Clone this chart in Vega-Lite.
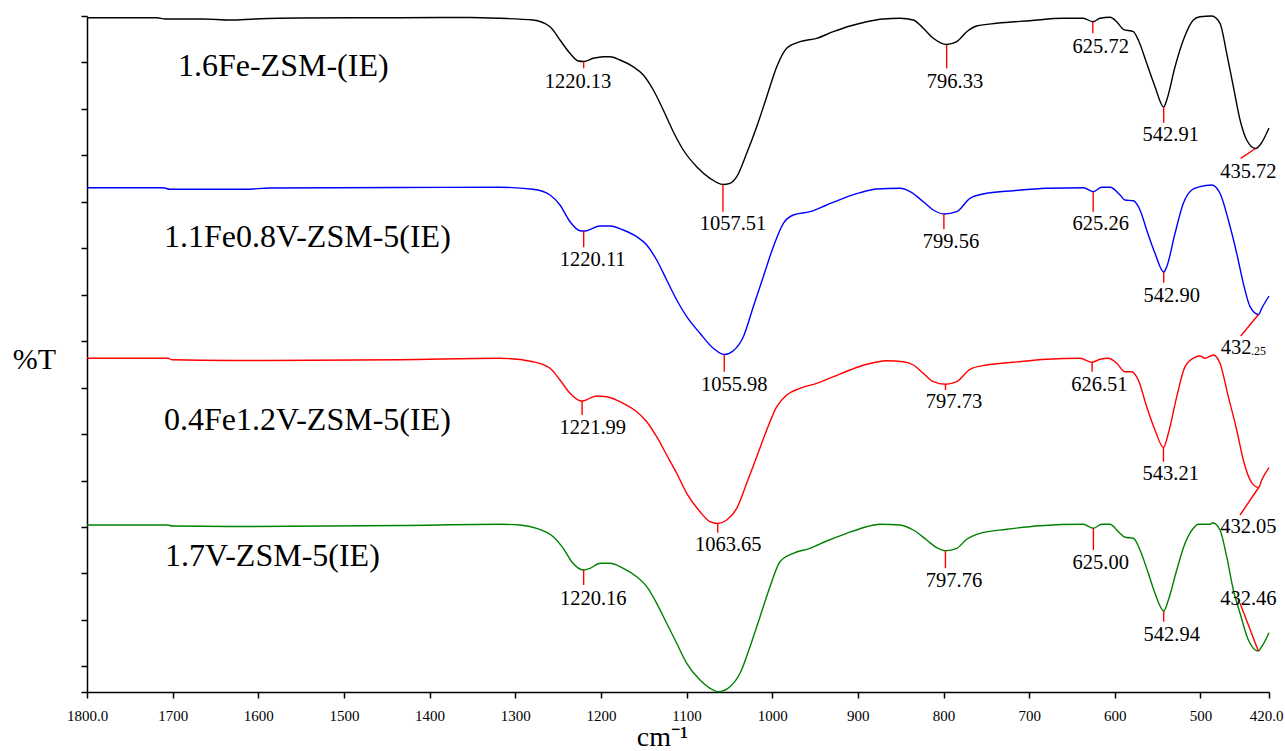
{
  "$schema": "https://vega.github.io/schema/vega-lite/v6.json",
  "width": 1182,
  "height": 676,
  "autosize": {"type": "none"},
  "padding": {"left": 87, "top": 16, "right": 16, "bottom": 59},
  "background": "white",
  "config": {
    "view": {"stroke": null},
    "font": "Liberation Serif",
    "axis": {"labelFont": "Liberation Serif", "titleFont": "Liberation Serif"},
    "text": {"font": "Liberation Serif", "color": "#000000"}
  },
  "datasets": {
    "spectra": [
      {"sample": "1.6Fe", "wn": 1800, "T": 67.43}, {"sample": "1.6Fe", "wn": 1718.3, "T": 67.43}, {"sample": "1.6Fe", "wn": 1708.9, "T": 67.3}, {"sample": "1.6Fe", "wn": 1664.6, "T": 67.3}, {"sample": "1.6Fe", "wn": 1633, "T": 67.2}, {"sample": "1.6Fe", "wn": 1603.9, "T": 67.3}, {"sample": "1.6Fe", "wn": 1551.3, "T": 67.4}, {"sample": "1.6Fe", "wn": 1434.6, "T": 67.43}, {"sample": "1.6Fe", "wn": 1352.8, "T": 67.45}, {"sample": "1.6Fe", "wn": 1317.8, "T": 67.37}, {"sample": "1.6Fe", "wn": 1279.3, "T": 67.2}, {"sample": "1.6Fe", "wn": 1259.4, "T": 66.53}, {"sample": "1.6Fe", "wn": 1247.8, "T": 65.2}, {"sample": "1.6Fe", "wn": 1236.1, "T": 63.87}, {"sample": "1.6Fe", "wn": 1226.4, "T": 63.1}, {"sample": "1.6Fe", "wn": 1220.13, "T": 63.05}, {"sample": "1.6Fe", "wn": 1208.9, "T": 63.37}, {"sample": "1.6Fe", "wn": 1197.2, "T": 63.53}, {"sample": "1.6Fe", "wn": 1189.4, "T": 63.53}, {"sample": "1.6Fe", "wn": 1177.7, "T": 63.2}, {"sample": "1.6Fe", "wn": 1162.5, "T": 62.53}, {"sample": "1.6Fe", "wn": 1150.5, "T": 61.7}, {"sample": "1.6Fe", "wn": 1138.8, "T": 60.2}, {"sample": "1.6Fe", "wn": 1127.2, "T": 58.2}, {"sample": "1.6Fe", "wn": 1115.5, "T": 56.03}, {"sample": "1.6Fe", "wn": 1103.8, "T": 54.2}, {"sample": "1.6Fe", "wn": 1088.2, "T": 52.53}, {"sample": "1.6Fe", "wn": 1072.6, "T": 51.37}, {"sample": "1.6Fe", "wn": 1057.51, "T": 50.75}, {"sample": "1.6Fe", "wn": 1049.3, "T": 50.87}, {"sample": "1.6Fe", "wn": 1041.4, "T": 51.53}, {"sample": "1.6Fe", "wn": 1029.8, "T": 53.87}, {"sample": "1.6Fe", "wn": 1018.1, "T": 56.53}, {"sample": "1.6Fe", "wn": 1006.4, "T": 59.53}, {"sample": "1.6Fe", "wn": 994.7, "T": 62.53}, {"sample": "1.6Fe", "wn": 983.1, "T": 64.37}, {"sample": "1.6Fe", "wn": 967.5, "T": 65.03}, {"sample": "1.6Fe", "wn": 948.1, "T": 65.37}, {"sample": "1.6Fe", "wn": 928.7, "T": 66.03}, {"sample": "1.6Fe", "wn": 909.2, "T": 66.6}, {"sample": "1.6Fe", "wn": 889.7, "T": 67.03}, {"sample": "1.6Fe", "wn": 870.3, "T": 67.3}, {"sample": "1.6Fe", "wn": 850.8, "T": 67.37}, {"sample": "1.6Fe", "wn": 835.3, "T": 67.2}, {"sample": "1.6Fe", "wn": 823.6, "T": 66.37}, {"sample": "1.6Fe", "wn": 811.9, "T": 65.37}, {"sample": "1.6Fe", "wn": 796.33, "T": 64.75}, {"sample": "1.6Fe", "wn": 784.6, "T": 65.03}, {"sample": "1.6Fe", "wn": 772.9, "T": 66.03}, {"sample": "1.6Fe", "wn": 761.2, "T": 66.6}, {"sample": "1.6Fe", "wn": 737.9, "T": 66.87}, {"sample": "1.6Fe", "wn": 699, "T": 67.13}, {"sample": "1.6Fe", "wn": 660.1, "T": 67.37}, {"sample": "1.6Fe", "wn": 636.8, "T": 67.37}, {"sample": "1.6Fe", "wn": 625.72, "T": 67.03}, {"sample": "1.6Fe", "wn": 617.3, "T": 67.37}, {"sample": "1.6Fe", "wn": 605.6, "T": 67.47}, {"sample": "1.6Fe", "wn": 597.8, "T": 67.03}, {"sample": "1.6Fe", "wn": 590.1, "T": 66.27}, {"sample": "1.6Fe", "wn": 578.4, "T": 66.03}, {"sample": "1.6Fe", "wn": 572.6, "T": 65.2}, {"sample": "1.6Fe", "wn": 562.8, "T": 62.87}, {"sample": "1.6Fe", "wn": 553.1, "T": 60.53}, {"sample": "1.6Fe", "wn": 542.91, "T": 58.5}, {"sample": "1.6Fe", "wn": 539.4, "T": 59.2}, {"sample": "1.6Fe", "wn": 529.7, "T": 62.53}, {"sample": "1.6Fe", "wn": 520, "T": 65.2}, {"sample": "1.6Fe", "wn": 508.3, "T": 67.2}, {"sample": "1.6Fe", "wn": 500.5, "T": 67.53}, {"sample": "1.6Fe", "wn": 486.9, "T": 67.6}, {"sample": "1.6Fe", "wn": 477.2, "T": 66.87}, {"sample": "1.6Fe", "wn": 469.4, "T": 63.87}, {"sample": "1.6Fe", "wn": 461.6, "T": 60.53}, {"sample": "1.6Fe", "wn": 453.8, "T": 57.2}, {"sample": "1.6Fe", "wn": 446, "T": 55.2}, {"sample": "1.6Fe", "wn": 435.72, "T": 54.35}, {"sample": "1.6Fe", "wn": 430.5, "T": 54.7}, {"sample": "1.6Fe", "wn": 420, "T": 56.4},

      {"sample": "1.1Fe0.8V", "wn": 1800, "T": 50.43}, {"sample": "1.1Fe0.8V", "wn": 1711.3, "T": 50.43}, {"sample": "1.1Fe0.8V", "wn": 1703.1, "T": 50.27}, {"sample": "1.1Fe0.8V", "wn": 1615.5, "T": 50.27}, {"sample": "1.1Fe0.8V", "wn": 1586.3, "T": 50.4}, {"sample": "1.1Fe0.8V", "wn": 1434.6, "T": 50.45}, {"sample": "1.1Fe0.8V", "wn": 1317.8, "T": 50.47}, {"sample": "1.1Fe0.8V", "wn": 1279.3, "T": 50.27}, {"sample": "1.1Fe0.8V", "wn": 1259.4, "T": 49.7}, {"sample": "1.1Fe0.8V", "wn": 1247.8, "T": 48.7}, {"sample": "1.1Fe0.8V", "wn": 1236.1, "T": 47.03}, {"sample": "1.1Fe0.8V", "wn": 1224.4, "T": 46.13}, {"sample": "1.1Fe0.8V", "wn": 1220.11, "T": 46.1}, {"sample": "1.1Fe0.8V", "wn": 1216.6, "T": 46.13}, {"sample": "1.1Fe0.8V", "wn": 1201.1, "T": 46.6}, {"sample": "1.1Fe0.8V", "wn": 1189.4, "T": 46.6}, {"sample": "1.1Fe0.8V", "wn": 1173.9, "T": 46.2}, {"sample": "1.1Fe0.8V", "wn": 1158.2, "T": 45.53}, {"sample": "1.1Fe0.8V", "wn": 1146.5, "T": 44.7}, {"sample": "1.1Fe0.8V", "wn": 1134.9, "T": 43.2}, {"sample": "1.1Fe0.8V", "wn": 1123.2, "T": 41.2}, {"sample": "1.1Fe0.8V", "wn": 1111.5, "T": 39.2}, {"sample": "1.1Fe0.8V", "wn": 1099.8, "T": 37.53}, {"sample": "1.1Fe0.8V", "wn": 1084.3, "T": 35.87}, {"sample": "1.1Fe0.8V", "wn": 1068.8, "T": 34.37}, {"sample": "1.1Fe0.8V", "wn": 1055.98, "T": 33.75}, {"sample": "1.1Fe0.8V", "wn": 1045.4, "T": 34.13}, {"sample": "1.1Fe0.8V", "wn": 1033.7, "T": 35.53}, {"sample": "1.1Fe0.8V", "wn": 1022.1, "T": 38.53}, {"sample": "1.1Fe0.8V", "wn": 1010.4, "T": 41.53}, {"sample": "1.1Fe0.8V", "wn": 998.7, "T": 44.53}, {"sample": "1.1Fe0.8V", "wn": 987, "T": 46.87}, {"sample": "1.1Fe0.8V", "wn": 975.4, "T": 47.7}, {"sample": "1.1Fe0.8V", "wn": 955.9, "T": 48.03}, {"sample": "1.1Fe0.8V", "wn": 936.4, "T": 48.7}, {"sample": "1.1Fe0.8V", "wn": 917, "T": 49.37}, {"sample": "1.1Fe0.8V", "wn": 897.5, "T": 49.93}, {"sample": "1.1Fe0.8V", "wn": 878, "T": 50.3}, {"sample": "1.1Fe0.8V", "wn": 850.8, "T": 50.37}, {"sample": "1.1Fe0.8V", "wn": 839.1, "T": 50.03}, {"sample": "1.1Fe0.8V", "wn": 823.6, "T": 49.03}, {"sample": "1.1Fe0.8V", "wn": 811.9, "T": 48.2}, {"sample": "1.1Fe0.8V", "wn": 799.56, "T": 47.8}, {"sample": "1.1Fe0.8V", "wn": 784.6, "T": 48.03}, {"sample": "1.1Fe0.8V", "wn": 769.1, "T": 49.37}, {"sample": "1.1Fe0.8V", "wn": 749.6, "T": 49.87}, {"sample": "1.1Fe0.8V", "wn": 718.5, "T": 50.13}, {"sample": "1.1Fe0.8V", "wn": 679.5, "T": 50.37}, {"sample": "1.1Fe0.8V", "wn": 636.8, "T": 50.43}, {"sample": "1.1Fe0.8V", "wn": 625.26, "T": 50.03}, {"sample": "1.1Fe0.8V", "wn": 615.3, "T": 50.47}, {"sample": "1.1Fe0.8V", "wn": 605.6, "T": 50.47}, {"sample": "1.1Fe0.8V", "wn": 593.9, "T": 49.7}, {"sample": "1.1Fe0.8V", "wn": 588.1, "T": 49.2}, {"sample": "1.1Fe0.8V", "wn": 578.4, "T": 49.13}, {"sample": "1.1Fe0.8V", "wn": 570.6, "T": 48.2}, {"sample": "1.1Fe0.8V", "wn": 562.8, "T": 46.2}, {"sample": "1.1Fe0.8V", "wn": 553.1, "T": 43.87}, {"sample": "1.1Fe0.8V", "wn": 542.9, "T": 42.0}, {"sample": "1.1Fe0.8V", "wn": 539.4, "T": 42.53}, {"sample": "1.1Fe0.8V", "wn": 529.7, "T": 45.87}, {"sample": "1.1Fe0.8V", "wn": 520, "T": 48.87}, {"sample": "1.1Fe0.8V", "wn": 510.2, "T": 50.2}, {"sample": "1.1Fe0.8V", "wn": 500.5, "T": 50.53}, {"sample": "1.1Fe0.8V", "wn": 486.9, "T": 50.7}, {"sample": "1.1Fe0.8V", "wn": 477.2, "T": 49.87}, {"sample": "1.1Fe0.8V", "wn": 467.5, "T": 47.2}, {"sample": "1.1Fe0.8V", "wn": 457.7, "T": 43.87}, {"sample": "1.1Fe0.8V", "wn": 450, "T": 40.87}, {"sample": "1.1Fe0.8V", "wn": 442.1, "T": 38.53}, {"sample": "1.1Fe0.8V", "wn": 432.25, "T": 37.75}, {"sample": "1.1Fe0.8V", "wn": 428.5, "T": 38.37}, {"sample": "1.1Fe0.8V", "wn": 420, "T": 39.6},

      {"sample": "0.4Fe1.2V", "wn": 1800, "T": 33.37}, {"sample": "0.4Fe1.2V", "wn": 1705.4, "T": 33.37}, {"sample": "0.4Fe1.2V", "wn": 1700.8, "T": 33.23}, {"sample": "0.4Fe1.2V", "wn": 1633, "T": 33.15}, {"sample": "0.4Fe1.2V", "wn": 1434.6, "T": 33.23}, {"sample": "0.4Fe1.2V", "wn": 1317.8, "T": 33.37}, {"sample": "0.4Fe1.2V", "wn": 1279.3, "T": 33.03}, {"sample": "0.4Fe1.2V", "wn": 1259.4, "T": 32.37}, {"sample": "0.4Fe1.2V", "wn": 1247.8, "T": 31.2}, {"sample": "0.4Fe1.2V", "wn": 1236.1, "T": 29.87}, {"sample": "0.4Fe1.2V", "wn": 1224.4, "T": 29.13}, {"sample": "0.4Fe1.2V", "wn": 1221.99, "T": 29.1}, {"sample": "0.4Fe1.2V", "wn": 1204.9, "T": 29.6}, {"sample": "0.4Fe1.2V", "wn": 1193.2, "T": 29.53}, {"sample": "0.4Fe1.2V", "wn": 1173.9, "T": 28.87}, {"sample": "0.4Fe1.2V", "wn": 1158.2, "T": 28.03}, {"sample": "0.4Fe1.2V", "wn": 1146.5, "T": 27.03}, {"sample": "0.4Fe1.2V", "wn": 1134.9, "T": 25.53}, {"sample": "0.4Fe1.2V", "wn": 1123.2, "T": 23.7}, {"sample": "0.4Fe1.2V", "wn": 1111.5, "T": 21.87}, {"sample": "0.4Fe1.2V", "wn": 1099.8, "T": 19.87}, {"sample": "0.4Fe1.2V", "wn": 1084.3, "T": 18.03}, {"sample": "0.4Fe1.2V", "wn": 1072.6, "T": 17.03}, {"sample": "0.4Fe1.2V", "wn": 1063.65, "T": 16.85}, {"sample": "0.4Fe1.2V", "wn": 1053.1, "T": 17.2}, {"sample": "0.4Fe1.2V", "wn": 1041.4, "T": 18.37}, {"sample": "0.4Fe1.2V", "wn": 1029.8, "T": 20.87}, {"sample": "0.4Fe1.2V", "wn": 1018.1, "T": 23.53}, {"sample": "0.4Fe1.2V", "wn": 1006.4, "T": 26.2}, {"sample": "0.4Fe1.2V", "wn": 994.7, "T": 28.53}, {"sample": "0.4Fe1.2V", "wn": 983.1, "T": 29.7}, {"sample": "0.4Fe1.2V", "wn": 967.5, "T": 30.37}, {"sample": "0.4Fe1.2V", "wn": 948.1, "T": 30.87}, {"sample": "0.4Fe1.2V", "wn": 928.7, "T": 31.53}, {"sample": "0.4Fe1.2V", "wn": 909.2, "T": 32.2}, {"sample": "0.4Fe1.2V", "wn": 889.7, "T": 32.77}, {"sample": "0.4Fe1.2V", "wn": 866.3, "T": 33.13}, {"sample": "0.4Fe1.2V", "wn": 846.9, "T": 33.03}, {"sample": "0.4Fe1.2V", "wn": 835.3, "T": 32.7}, {"sample": "0.4Fe1.2V", "wn": 823.6, "T": 31.87}, {"sample": "0.4Fe1.2V", "wn": 811.9, "T": 31.03}, {"sample": "0.4Fe1.2V", "wn": 797.73, "T": 30.77}, {"sample": "0.4Fe1.2V", "wn": 784.6, "T": 31.03}, {"sample": "0.4Fe1.2V", "wn": 769.1, "T": 32.27}, {"sample": "0.4Fe1.2V", "wn": 749.6, "T": 32.7}, {"sample": "0.4Fe1.2V", "wn": 718.5, "T": 32.97}, {"sample": "0.4Fe1.2V", "wn": 679.5, "T": 33.27}, {"sample": "0.4Fe1.2V", "wn": 640.6, "T": 33.37}, {"sample": "0.4Fe1.2V", "wn": 626.51, "T": 32.97}, {"sample": "0.4Fe1.2V", "wn": 617.3, "T": 33.27}, {"sample": "0.4Fe1.2V", "wn": 607.6, "T": 33.37}, {"sample": "0.4Fe1.2V", "wn": 597.8, "T": 32.87}, {"sample": "0.4Fe1.2V", "wn": 588.1, "T": 32.03}, {"sample": "0.4Fe1.2V", "wn": 580.3, "T": 32.03}, {"sample": "0.4Fe1.2V", "wn": 572.6, "T": 31.2}, {"sample": "0.4Fe1.2V", "wn": 562.8, "T": 28.53}, {"sample": "0.4Fe1.2V", "wn": 553.1, "T": 26.2}, {"sample": "0.4Fe1.2V", "wn": 543.21, "T": 24.45}, {"sample": "0.4Fe1.2V", "wn": 537.5, "T": 25.87}, {"sample": "0.4Fe1.2V", "wn": 527.7, "T": 29.53}, {"sample": "0.4Fe1.2V", "wn": 518, "T": 32.53}, {"sample": "0.4Fe1.2V", "wn": 506.4, "T": 33.47}, {"sample": "0.4Fe1.2V", "wn": 500.5, "T": 33.6}, {"sample": "0.4Fe1.2V", "wn": 494.7, "T": 33.37}, {"sample": "0.4Fe1.2V", "wn": 485, "T": 33.7}, {"sample": "0.4Fe1.2V", "wn": 477.2, "T": 32.87}, {"sample": "0.4Fe1.2V", "wn": 467.5, "T": 29.53}, {"sample": "0.4Fe1.2V", "wn": 457.7, "T": 26.2}, {"sample": "0.4Fe1.2V", "wn": 450, "T": 23.2}, {"sample": "0.4Fe1.2V", "wn": 440.2, "T": 20.93}, {"sample": "0.4Fe1.2V", "wn": 432.05, "T": 20.45}, {"sample": "0.4Fe1.2V", "wn": 428.5, "T": 21.2}, {"sample": "0.4Fe1.2V", "wn": 420, "T": 22.43},

      {"sample": "1.7V", "wn": 1800, "T": 16.7}, {"sample": "1.7V", "wn": 1705.4, "T": 16.7}, {"sample": "1.7V", "wn": 1700.8, "T": 16.6}, {"sample": "1.7V", "wn": 1633, "T": 16.55}, {"sample": "1.7V", "wn": 1434.6, "T": 16.65}, {"sample": "1.7V", "wn": 1317.8, "T": 16.77}, {"sample": "1.7V", "wn": 1294.5, "T": 16.7}, {"sample": "1.7V", "wn": 1275, "T": 16.37}, {"sample": "1.7V", "wn": 1255.6, "T": 15.53}, {"sample": "1.7V", "wn": 1243.9, "T": 14.37}, {"sample": "1.7V", "wn": 1234.1, "T": 13.03}, {"sample": "1.7V", "wn": 1220.16, "T": 12.2}, {"sample": "1.7V", "wn": 1212.7, "T": 12.37}, {"sample": "1.7V", "wn": 1201.1, "T": 12.87}, {"sample": "1.7V", "wn": 1189.4, "T": 12.87}, {"sample": "1.7V", "wn": 1173.9, "T": 12.37}, {"sample": "1.7V", "wn": 1158.2, "T": 11.53}, {"sample": "1.7V", "wn": 1146.5, "T": 10.53}, {"sample": "1.7V", "wn": 1134.9, "T": 8.87}, {"sample": "1.7V", "wn": 1123.2, "T": 6.87}, {"sample": "1.7V", "wn": 1111.5, "T": 4.87}, {"sample": "1.7V", "wn": 1099.8, "T": 2.87}, {"sample": "1.7V", "wn": 1084.3, "T": 1.2}, {"sample": "1.7V", "wn": 1072.6, "T": 0.37}, {"sample": "1.7V", "wn": 1062.9, "T": 0.03}, {"sample": "1.7V", "wn": 1049.3, "T": 0.53}, {"sample": "1.7V", "wn": 1037.6, "T": 1.87}, {"sample": "1.7V", "wn": 1025.9, "T": 4.53}, {"sample": "1.7V", "wn": 1014.2, "T": 7.53}, {"sample": "1.7V", "wn": 1002.6, "T": 10.53}, {"sample": "1.7V", "wn": 990.9, "T": 13.03}, {"sample": "1.7V", "wn": 975.4, "T": 13.87}, {"sample": "1.7V", "wn": 955.9, "T": 14.37}, {"sample": "1.7V", "wn": 936.4, "T": 15.1}, {"sample": "1.7V", "wn": 913, "T": 15.87}, {"sample": "1.7V", "wn": 889.7, "T": 16.53}, {"sample": "1.7V", "wn": 874.1, "T": 16.77}, {"sample": "1.7V", "wn": 850.8, "T": 16.7}, {"sample": "1.7V", "wn": 835.3, "T": 16.2}, {"sample": "1.7V", "wn": 819.6, "T": 15.2}, {"sample": "1.7V", "wn": 808, "T": 14.43}, {"sample": "1.7V", "wn": 797.76, "T": 14.13}, {"sample": "1.7V", "wn": 784.6, "T": 14.37}, {"sample": "1.7V", "wn": 772.9, "T": 15.27}, {"sample": "1.7V", "wn": 757.4, "T": 15.87}, {"sample": "1.7V", "wn": 726.2, "T": 16.27}, {"sample": "1.7V", "wn": 687.3, "T": 16.63}, {"sample": "1.7V", "wn": 636.8, "T": 16.77}, {"sample": "1.7V", "wn": 625, "T": 16.37}, {"sample": "1.7V", "wn": 615.3, "T": 16.77}, {"sample": "1.7V", "wn": 605.6, "T": 16.77}, {"sample": "1.7V", "wn": 595.9, "T": 16.03}, {"sample": "1.7V", "wn": 588.1, "T": 15.47}, {"sample": "1.7V", "wn": 578.4, "T": 15.37}, {"sample": "1.7V", "wn": 570.6, "T": 14.2}, {"sample": "1.7V", "wn": 560.9, "T": 11.87}, {"sample": "1.7V", "wn": 553.1, "T": 9.87}, {"sample": "1.7V", "wn": 542.94, "T": 8.1}, {"sample": "1.7V", "wn": 537.5, "T": 9.2}, {"sample": "1.7V", "wn": 527.7, "T": 12.2}, {"sample": "1.7V", "wn": 518, "T": 14.87}, {"sample": "1.7V", "wn": 508.3, "T": 16.37}, {"sample": "1.7V", "wn": 502.5, "T": 16.77}, {"sample": "1.7V", "wn": 488.8, "T": 16.77}, {"sample": "1.7V", "wn": 485.7, "T": 16.93}, {"sample": "1.7V", "wn": 477.2, "T": 16.2}, {"sample": "1.7V", "wn": 469.4, "T": 13.53}, {"sample": "1.7V", "wn": 461.6, "T": 10.2}, {"sample": "1.7V", "wn": 453.8, "T": 7.87}, {"sample": "1.7V", "wn": 444.1, "T": 5.2}, {"sample": "1.7V", "wn": 432.46, "T": 4.1}, {"sample": "1.7V", "wn": 428.5, "T": 4.53}, {"sample": "1.7V", "wn": 420, "T": 5.93}
    ],
    "markers": [
      {"wn": 1220.13, "T": 63.05, "wn2": 1220.13, "T2": 62.37},
      {"wn": 1057.51, "T": 50.7, "wn2": 1057.51, "T2": 48.03},
      {"wn": 796.33, "T": 64.7, "wn2": 796.33, "T2": 62.37},
      {"wn": 625.72, "T": 67.0, "wn2": 625.72, "T2": 65.87},
      {"wn": 542.91, "T": 58.5, "wn2": 542.91, "T2": 56.93},
      {"wn": 435.72, "T": 54.35, "wn2": 453, "T2": 53.37},
      {"wn": 1220.11, "T": 46.1, "wn2": 1220.11, "T2": 44.47},
      {"wn": 1055.98, "T": 33.7, "wn2": 1055.98, "T2": 32.03},
      {"wn": 799.56, "T": 47.8, "wn2": 799.56, "T2": 46.27},
      {"wn": 625.26, "T": 50.03, "wn2": 625.26, "T2": 48.03},
      {"wn": 542.9, "T": 42.0, "wn2": 542.9, "T2": 40.93},
      {"wn": 432.25, "T": 37.75, "wn2": 453, "T2": 35.6},
      {"wn": 1221.99, "T": 29.1, "wn2": 1221.99, "T2": 27.7},
      {"wn": 1063.65, "T": 16.8, "wn2": 1063.65, "T2": 15.93},
      {"wn": 797.73, "T": 30.77, "wn2": 797.73, "T2": 30.2},
      {"wn": 626.51, "T": 32.97, "wn2": 626.51, "T2": 32.03},
      {"wn": 543.21, "T": 24.45, "wn2": 543.21, "T2": 23.03},
      {"wn": 432.05, "T": 20.45, "wn2": 453.8, "T2": 17.7},
      {"wn": 1220.16, "T": 12.2, "wn2": 1220.16, "T2": 10.7},
      {"wn": 797.76, "T": 14.13, "wn2": 797.76, "T2": 12.37},
      {"wn": 625, "T": 16.37, "wn2": 625, "T2": 14.2},
      {"wn": 542.94, "T": 8.1, "wn2": 542.94, "T2": 7.03},
      {"wn": 432.46, "T": 4.1, "wn2": 453.8, "T2": 8.87}
    ],
    "peaks": [
      {"label": "1220.13", "wn": 1226.7, "T": 61.03},
      {"label": "1057.51", "wn": 1045.8, "T": 46.77},
      {"label": "796.33", "wn": 786.6, "T": 61.03},
      {"label": "625.72", "wn": 616.5, "T": 64.53},
      {"label": "542.91", "wn": 534.7, "T": 55.7},
      {"label": "435.72", "wn": 444.1, "T": 52.03},
      {"label": "1220.11", "wn": 1209.6, "T": 43.2},
      {"label": "1055.98", "wn": 1044.3, "T": 30.7},
      {"label": "799.56", "wn": 791.2, "T": 45.03},
      {"label": "625.26", "wn": 616.5, "T": 46.77},
      {"label": "542.90", "wn": 533.6, "T": 39.6},
      {"label": "432", "wn": 458.5, "T": 34.37},
      {"label": "1221.99", "wn": 1209.6, "T": 26.37},
      {"label": "1063.65", "wn": 1051.3, "T": 14.7},
      {"label": "797.73", "wn": 787.7, "T": 29.03},
      {"label": "626.51", "wn": 618.1, "T": 30.7},
      {"label": "543.21", "wn": 534.7, "T": 21.8},
      {"label": "432.05", "wn": 444.1, "T": 16.53},
      {"label": "1220.16", "wn": 1208.9, "T": 9.27},
      {"label": "797.76", "wn": 787.7, "T": 11.1},
      {"label": "625.00", "wn": 616.5, "T": 12.87},
      {"label": "542.94", "wn": 533.6, "T": 5.7},
      {"label": "432.46", "wn": 444.1, "T": 9.27}
    ],
    "decimals": [
      {"label": ".25", "wn": 441, "T": 33.7}
    ],
    "names": [
      {"label": "1.6Fe-ZSM-(IE)", "wn": 1693.8, "T": 62.6},
      {"label": "1.1Fe0.8V-ZSM-5(IE)", "wn": 1710.1, "T": 45.55},
      {"label": "0.4Fe1.2V-ZSM-5(IE)", "wn": 1710.1, "T": 27.2},
      {"label": "1.7V-ZSM-5(IE)", "wn": 1708.9, "T": 13.6}
    ]
  },
  "encoding": {
    "x": {
      "field": "wn", "type": "quantitative",
      "scale": {"domain": [420, 1800], "reverse": true, "nice": false, "zero": false},
      "axis": {
        "values": [1800, 1700, 1600, 1500, 1400, 1300, 1200, 1100, 1000, 900, 800, 700, 600, 500, 420],
        "labelExpr": "datum.value == 1800 || datum.value == 420 ? format(datum.value, '.1f') : format(datum.value, 'd')",
        "grid": false,
        "domainColor": "#000000", "domainWidth": 1.5,
        "tickColor": "#000000", "tickWidth": 1.5, "tickSize": 6,
        "labelFont": "Liberation Serif", "labelFontSize": 15, "labelColor": "#000000",
        "labelPadding": 10, "labelOverlap": false, "labelFlush": false, "labelBound": false,
        "labelOffset": {"condition": {"test": "datum.value == 420", "value": -3}, "value": 0},
        "title": "cm⁻¹", "titleFont": "Liberation Serif", "titleFontSize": 28, "titleFontWeight": "normal",
        "titleColor": "#000000", "titleAnchor": "start", "titleAlign": "center",
        "titleX": 575, "titleY": 53, "titleBaseline": "alphabetic"
      }
    },
    "y": {
      "field": "T", "type": "quantitative",
      "scale": {"domain": [0, 67.6], "nice": false, "zero": false},
      "axis": {
        "values": [67.6, 62.955, 58.31, 53.665, 49.02, 44.375, 39.73, 35.085, 30.44, 25.795, 21.15, 16.505, 11.86, 7.215, 2.57, 0],
        "labels": false, "grid": false,
        "domainColor": "#000000", "domainWidth": 1.5,
        "tickColor": "#000000", "tickWidth": 1.5, "tickSize": 6,
        "title": "%T", "titleFont": "Liberation Serif", "titleFontSize": 30, "titleFontWeight": "normal",
        "titleColor": "#000000", "titleAngle": 0, "titleAlign": "center", "titleBaseline": "middle",
        "titleX": -53, "titleY": 343
      }
    }
  },
  "layer": [
    {
      "data": {"name": "spectra"},
      "mark": {"type": "line", "strokeWidth": 1.4, "interpolate": "monotone"},
      "encoding": {
        "color": {
          "field": "sample", "type": "nominal",
          "scale": {"domain": ["1.6Fe", "1.1Fe0.8V", "0.4Fe1.2V", "1.7V"], "range": ["#000000", "#0000ff", "#ff0000", "#008000"]},
          "legend": null
        }
      }
    },
    {
      "data": {"name": "markers"},
      "mark": {"type": "rule", "color": "#ff0000", "strokeWidth": 1.4},
      "encoding": {
        "x2": {"field": "wn2"},
        "y2": {"field": "T2"}
      }
    },
    {
      "data": {"name": "peaks"},
      "mark": {"type": "text", "fontSize": 20.5, "align": "center", "baseline": "middle", "color": "#000000"},
      "encoding": {"text": {"field": "label"}}
    },
    {
      "data": {"name": "decimals"},
      "mark": {"type": "text", "fontSize": 12, "align": "left", "baseline": "alphabetic", "color": "#000000"},
      "encoding": {"text": {"field": "label"}}
    },
    {
      "data": {"name": "names"},
      "mark": {"type": "text", "fontSize": 32, "align": "left", "baseline": "middle", "color": "#000000"},
      "encoding": {"text": {"field": "label"}}
    }
  ]
}
